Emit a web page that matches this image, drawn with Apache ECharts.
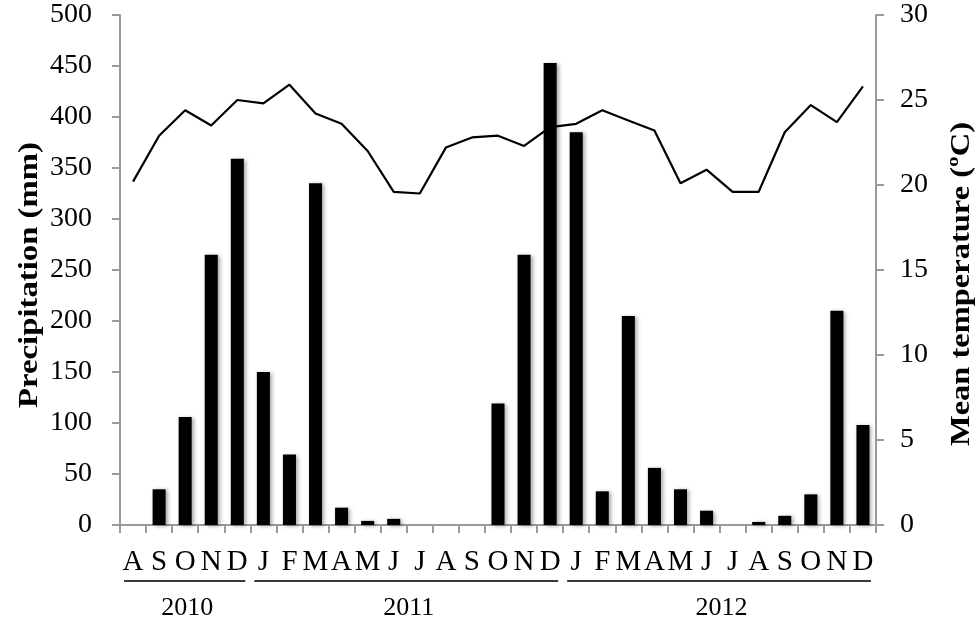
<!DOCTYPE html>
<html>
<head>
<meta charset="utf-8">
<style>
  html, body { margin: 0; padding: 0; background: #fff; }
  #chart { width: 980px; height: 628px; }
</style>
<script src="https://cdn.jsdelivr.net/npm/echarts@6/dist/echarts.min.js"></script>
</head>
<body>
<div id="chart"></div>
<script>
// Monthly rainfall (bars, left axis) and mean temperature (line, right axis), Aug 2010 – Dec 2012
const months = ['A','S','O','N','D','J','F','M','A','M','J','J','A','S','O','N','D','J','F','M','A','M','J','J','A','S','O','N','D'];
const precipitation = [0, 35, 106, 265, 359, 150, 69, 335, 17, 4, 6, 0, 0, 0, 119, 265, 453, 385, 33, 205, 56, 35, 14, 0, 3, 9, 30, 210, 98];
const temperature = [20.2, 22.9, 24.4, 23.5, 25.0, 24.8, 25.9, 24.2, 23.6, 22.0, 19.6, 19.5, 22.2, 22.8, 22.9, 22.3, 23.4, 23.6, 24.4, 23.8, 23.2, 20.1, 20.9, 19.6, 19.6, 23.1, 24.7, 23.7, 25.8];
const years = ['2010', '2011', '2012'];
const monthsPerYear = [5, 12, 12];
const precipTicks = [0, 500, 50];
const tempTicks = [0, 30, 5];
const precipTitle = 'Precipitation (mm)';
const tempTitle = 'Mean temperature (ºC)';

const FONT = '"Liberation Serif", "Times New Roman", serif';
const AXIS_GREY = '#9a9a9a';

const chart = echarts.init(document.getElementById('chart'), null, { renderer: 'canvas' });

const option = {
  animation: false,
  backgroundColor: '#ffffff',
  grid: { left: 120, right: 104, top: 15, bottom: 103, containLabel: false, outerBoundsMode: 'none' },
  xAxis: {
    type: 'category',
    data: months,
    boundaryGap: true,
    axisLine: { lineStyle: { color: AXIS_GREY, width: 2 } },
    axisTick: { show: true, inside: false, length: 8, alignWithLabel: false, lineStyle: { color: AXIS_GREY, width: 2 } },
    axisLabel: { interval: 0, color: '#000', fontFamily: FONT, fontSize: 29, margin: 23 },
    splitLine: { show: false }
  },
  yAxis: [
    {
      type: 'value',
      min: precipTicks[0], max: precipTicks[1], interval: precipTicks[2],
      axisLine: { show: true, lineStyle: { color: AXIS_GREY, width: 2 } },
      axisTick: { show: true, length: 8, lineStyle: { color: AXIS_GREY, width: 2 } },
      axisLabel: { color: '#000', fontFamily: FONT, fontSize: 28, margin: 28 },
      splitLine: { show: false }
    },
    {
      type: 'value',
      position: 'right',
      min: tempTicks[0], max: tempTicks[1], interval: tempTicks[2],
      axisLine: { show: true, lineStyle: { color: AXIS_GREY, width: 2 } },
      axisTick: { show: true, length: 8, lineStyle: { color: AXIS_GREY, width: 2 } },
      axisLabel: { color: '#000', fontFamily: FONT, fontSize: 28, margin: 24 },
      splitLine: { show: false }
    }
  ],
  series: [
    {
      name: 'Precipitation',
      type: 'bar',
      yAxisIndex: 0,
      data: precipitation,
      barWidth: '50%',
      itemStyle: {
        color: '#000',
        shadowColor: 'rgba(0,0,0,0.35)',
        shadowBlur: 4,
        shadowOffsetX: 2,
        shadowOffsetY: 1
      }
    },
    {
      name: 'Temperature',
      type: 'line',
      yAxisIndex: 1,
      data: temperature,
      symbol: 'none',
      lineStyle: { color: '#000', width: 2.2 },
      z: 5
    }
  ]
};

chart.setOption(option);

// Axis titles (stretched serif, reading upwards) and the year brackets under the month letters,
// all placed from the axes' own pixel scale
function drawDecorations() {
  const a = chart.convertToPixel({ xAxisIndex: 0 }, 0);
  const b = chart.convertToPixel({ xAxisIndex: 0 }, 1);
  const step = b - a;
  const axisY = chart.convertToPixel({ yAxisIndex: 0 }, precipTicks[0]);
  const topY = chart.convertToPixel({ yAxisIndex: 0 }, precipTicks[1]);
  const leftX = a - step / 2;
  const rightX = leftX + months.length * step;
  const midY = (axisY + topY) / 2;
  const elements = [];

  elements.push({
    type: 'text',
    x: leftX - 90, y: midY + 5,
    rotation: Math.PI / 2,
    scaleX: 1.17,
    style: {
      text: precipTitle, fill: '#000', font: 'bold 28px ' + FONT,
      textAlign: 'center', textVerticalAlign: 'middle'
    }
  });
  elements.push({
    type: 'text',
    x: rightX + 86, y: midY + 14,
    rotation: Math.PI / 2,
    scaleX: 1.16,
    style: {
      text: tempTitle, fill: '#000', font: 'bold 28px ' + FONT,
      textAlign: 'center', textVerticalAlign: 'middle'
    }
  });

  let start = 0;
  years.forEach((yr, i) => {
    const n = monthsPerYear[i];
    const x0 = leftX + start * step;
    const x1 = x0 + n * step;
    elements.push({
      type: 'line',
      shape: { x1: x0 + 4, y1: axisY + 56, x2: x1 - 5, y2: axisY + 56 },
      style: { stroke: '#3a3a3a', lineWidth: 2 }
    });
    elements.push({
      type: 'text',
      x: (x0 + x1) / 2 + 2,
      y: axisY + 83,
      style: {
        text: yr, fill: '#000', font: '26px ' + FONT,
        textAlign: 'center', textVerticalAlign: 'middle'
      }
    });
    start += n;
  });
  chart.setOption({ graphic: elements });
}
drawDecorations();
</script>
</body>
</html>
